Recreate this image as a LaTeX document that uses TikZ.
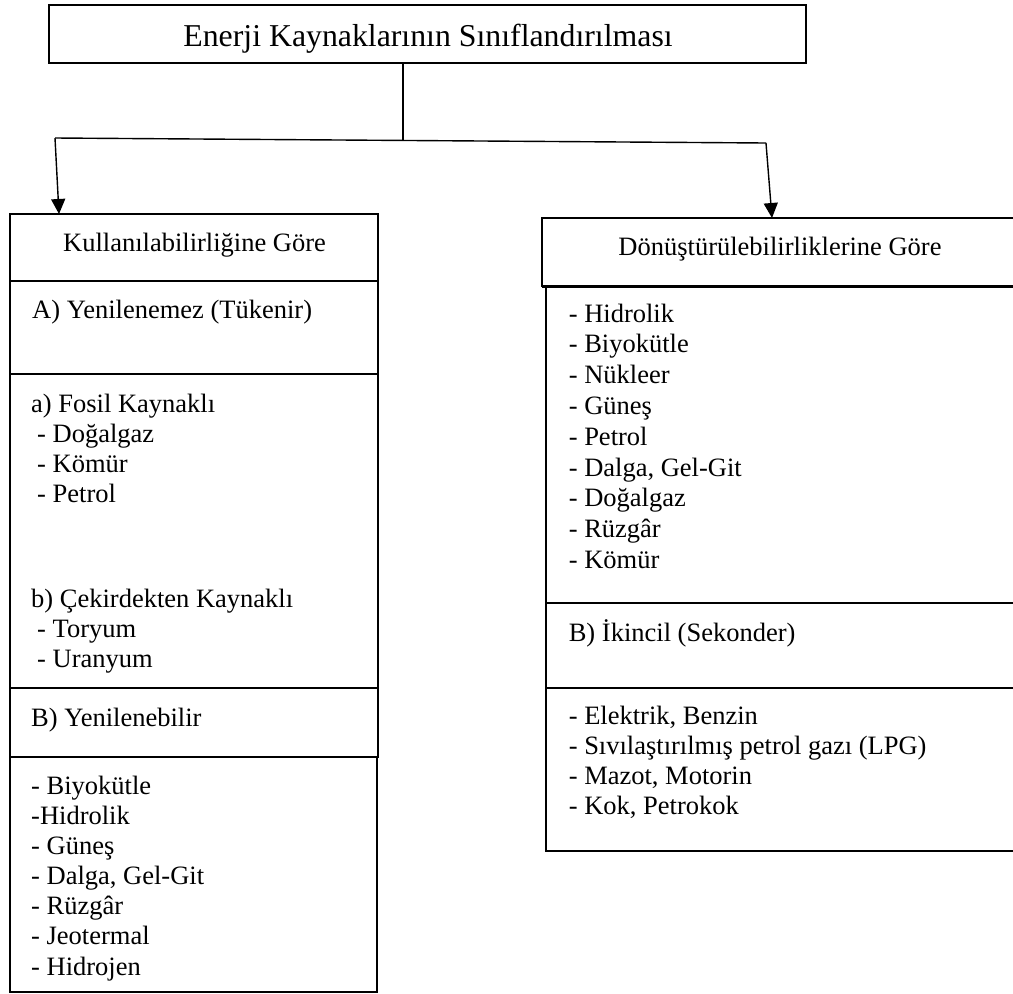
\documentclass[tikz,border=0pt]{standalone}
\usepackage{fontspec}
\setmainfont{Liberation Serif}
\usetikzlibrary{arrows.meta}
\newcommand{\bodyfs}{\fontsize{26.5}{30}\selectfont}
\newcommand{\titlefs}{\fontsize{31.8}{36}\selectfont}
\begin{document}
\begin{tikzpicture}[x=1pt,y=-1pt,
  box/.style={draw, line width=2.2pt, rectangle, inner sep=0pt, outer sep=0pt, anchor=north west},
  txt/.style={inner sep=0pt, anchor=base west, font=\bodyfs},
  ctxt/.style={inner sep=0pt, anchor=base, font=\bodyfs},
  conn/.style={line width=1.4pt},
  arr/.style={conn, -{Triangle[length=15pt,width=14pt]}}]
\clip (0,0) rectangle (1013,994);
\fill[white] (0,0) rectangle (1013,994);

% title
\node[box, minimum width=757pt, minimum height=58pt] (title) at (49,5) {};
\node[inner sep=0pt, anchor=base, font=\titlefs] (titletext) at (428,46) {Enerji Kaynaklarının Sınıflandırılması};

% left column
\node[box, minimum width=368pt, minimum height=67pt] (kul) at (10,214) {};
\node[ctxt] (kultext) at (194.5,251) {Kullanılabilirliğine Göre};
\node[box, minimum width=368pt, minimum height=93pt] (ayen) at (10,281) {};
\node[box, minimum width=368pt, minimum height=314pt] (fosil) at (10,374) {};
\node[box, minimum width=368pt, minimum height=69pt] (byen) at (10,688) {};
\node[box, minimum width=367pt, minimum height=235pt] (blist) at (10,757) {};

\node[txt] (l1) at (32,318) {A) Yenilenemez (Tükenir)};
\node[txt] (l2) at (31,412) {a) Fosil Kaynaklı};
\node[txt] (l3) at (37,442) {- Doğalgaz};
\node[txt] (l4) at (37,472) {- Kömür};
\node[txt] (l5) at (37,502) {- Petrol};
\node[txt] (l6) at (31,607) {b) Çekirdekten Kaynaklı};
\node[txt] (l7) at (37,637) {- Toryum};
\node[txt] (l8) at (37,667) {- Uranyum};
\node[txt] (l9) at (31,726) {B) Yenilenebilir};
\node[txt] (l10) at (31,794) {- Biyokütle};
\node[txt] (l11) at (31,824) {-Hidrolik};
\node[txt] (l12) at (31,854) {- Güneş};
\node[txt] (l13) at (31,884) {- Dalga, Gel-Git};
\node[txt] (l14) at (31,914) {- Rüzgâr};
\node[txt] (l15) at (31,944) {- Jeotermal};
\node[txt] (l16) at (31,975) {- Hidrojen};

% right column
\node[box, minimum width=476pt, minimum height=68pt] (don) at (542,218) {};
\node[ctxt] (dontext) at (780,255) {Dönüştürülebilirliklerine Göre};
\node[box, minimum width=480pt, minimum height=317pt] (rlist) at (546,286) {};
\node[box, minimum width=480pt, minimum height=85pt] (ikin) at (546,603) {};
\node[box, minimum width=480pt, minimum height=163pt] (rlist2) at (546,688) {};
\draw[line width=3pt] (don.south west) -- (don.south east);

\node[txt] (r1) at (568.6,322) {- Hidrolik};
\node[txt] (r2) at (568.6,352.8) {- Biyokütle};
\node[txt] (r3) at (568.6,383.6) {- Nükleer};
\node[txt] (r4) at (568.6,414.4) {- Güneş};
\node[txt] (r5) at (568.6,445.2) {- Petrol};
\node[txt] (r6) at (568.6,476) {- Dalga, Gel-Git};
\node[txt] (r7) at (568.6,506.8) {- Doğalgaz};
\node[txt] (r8) at (568.6,537.6) {- Rüzgâr};
\node[txt] (r9) at (568.6,568.4) {- Kömür};
\node[txt] (r10) at (568.6,641) {B) İkincil (Sekonder)};
\node[txt] (r11) at (568.6,724) {- Elektrik, Benzin};
\node[txt] (r12) at (568.6,754) {- Sıvılaştırılmış petrol gazı (LPG)};
\node[txt] (r13) at (568.6,784) {- Mazot, Motorin};
\node[txt] (r14) at (568.6,814) {- Kok, Petrokok};

% connectors
\coordinate (j) at (403,140);
\coordinate (lt) at (55,138);
\coordinate (rt) at (766,143);
\coordinate (la) at (59,214);
\coordinate (ra) at (772,218);
\draw[conn] (j |- title.south) -- (j);
\draw[conn] (lt) -- (rt);
\draw[arr] (lt) -- (la);
\draw[arr] (rt) -- (ra);
\end{tikzpicture}
\end{document}
